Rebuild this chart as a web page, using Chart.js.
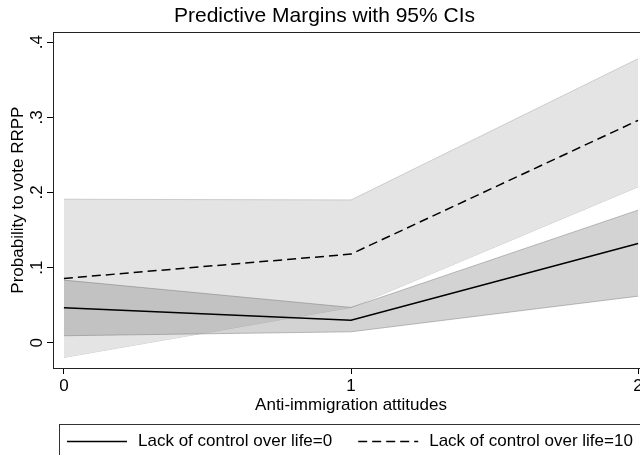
<!DOCTYPE html>
<html>
<head>
<meta charset="utf-8">
<script src="https://cdn.jsdelivr.net/npm/chart.js@4"></script>
<style>
  html, body { margin: 0; padding: 0; background: #fff; overflow: hidden; }
</style>
</head>
<body>
<canvas id="canvas" width="700" height="455"></canvas>
<script>
// predictive margins
var xVals = [0, 1, 2];
var margin0 = [0.0465, 0.030, 0.132];
var lower0 = [0.0093, 0.0146, 0.062];
var upper0 = [0.0834, 0.047, 0.1765];
var margin10 = [0.0856, 0.118, 0.296];
var lower10 = [-0.0195, 0.047, 0.2075];
var upper10 = [0.191, 0.190, 0.378];

var xTicks = [0, 1, 2];
var yTicks = [0, 0.1, 0.2, 0.3, 0.4];
var yTickLabels = ['0', '.1', '.2', '.3', '.4'];
var legendNames = ['Lack of control over life=0', 'Lack of control over life=10'];

var FONT = "'Liberation Sans', Arial, sans-serif";

function pts( arr ){
  return xVals.map(function( x, i ){ return { x: x, y: arr[i] }; });
}

// rotated y tick labels, frame and the legend box
var stataBits = {
  id: 'stataBits',
  afterDraw: function( chart ){
    var ctx = chart.ctx;
    var area = chart.chartArea;
    var y = chart.scales.y;
    ctx.save();

    ctx.strokeStyle = '#222';
    ctx.lineWidth = 1;
    ctx.strokeRect( Math.round(area.left) + 0.5, Math.round(area.top) + 0.5,
                    Math.round(area.right - area.left), Math.round(area.bottom - area.top) );

    ctx.fillStyle = '#000';
    ctx.font = '17px ' + FONT;
    ctx.textAlign = 'center';
    ctx.textBaseline = 'middle';
    for( var i = 0; i < yTicks.length; i++ ){
      ctx.save();
      ctx.translate( 37.5, y.getPixelForValue( yTicks[i] ) );
      ctx.rotate( -Math.PI / 2 );
      ctx.fillText( yTickLabels[i], 0, 0 );
      ctx.restore();
    }

    // legend
    var ly = 441.5;
    ctx.strokeStyle = '#333';
    ctx.lineWidth = 1;
    ctx.strokeRect( 59.5, 424.5, 584, 45 );
    ctx.textAlign = 'left';
    var xPos = 67;
    for( var k = 0; k < legendNames.length; k++ ){
      ctx.beginPath();
      ctx.strokeStyle = '#000';
      ctx.lineWidth = 1.4;
      ctx.setLineDash( k === 0 ? [] : [9, 5] );
      ctx.moveTo( xPos, ly );
      ctx.lineTo( xPos + 60, ly );
      ctx.stroke();
      ctx.setLineDash([]);
      ctx.fillText( legendNames[k], xPos + 71, ly );
      xPos = xPos + 71 + ctx.measureText( legendNames[k] ).width + 26;
    }
    ctx.restore();
  }
};

var ctx = document.getElementById('canvas').getContext('2d');
var chart = new Chart(ctx, {
  type: 'line',
  data: {
    datasets: [
      { label: legendNames[0], data: pts(margin0), borderColor: '#000', borderWidth: 1.5,
        pointRadius: 0, fill: false, order: 0 },
      { label: legendNames[1], data: pts(margin10), borderColor: '#000', borderWidth: 1.5,
        borderDash: [9, 5], pointRadius: 0, fill: false, order: 0 },
      { label: 'ci0 hi', data: pts(upper0), borderColor: 'rgba(110,110,110,0.45)', borderWidth: 1,
        backgroundColor: 'rgba(140,140,140,0.38)', pointRadius: 0, fill: '+1', order: 1 },
      { label: 'ci0 lo', data: pts(lower0), borderColor: 'rgba(110,110,110,0.45)', borderWidth: 1,
        pointRadius: 0, fill: false, order: 1 },
      { label: 'ci10 hi', data: pts(upper10), borderColor: 'rgb(203,203,203)', borderWidth: 1,
        backgroundColor: 'rgb(228,228,228)', pointRadius: 0, fill: '+1', order: 2 },
      { label: 'ci10 lo', data: pts(lower10), borderColor: 'rgb(203,203,203)', borderWidth: 1,
        pointRadius: 0, fill: false, order: 2 }
    ]
  },
  options: {
    responsive: false,
    animation: false,
    events: [],
    layout: { padding: { left: 0, right: 51, top: 0, bottom: 40 } },
    plugins: {
      legend: { display: false },
      tooltip: { enabled: false },
      title: {
        display: true,
        text: 'Predictive Margins with 95% CIs',
        color: '#000',
        font: { family: FONT, size: 21, weight: 'normal' },
        padding: { top: 4, bottom: 3 }
      }
    },
    scales: {
      x: {
        type: 'linear',
        min: -0.038,
        max: 2.038,
        afterBuildTicks: function( s ){ s.ticks = xTicks.map(function( v ){ return { value: v }; }); },
        afterFit: function( s ){ s.height = 47; },
        ticks: { color: '#000', font: { family: FONT, size: 17 }, padding: 2, maxRotation: 0,
                 callback: function( v ){ return String(v); } },
        grid: { drawOnChartArea: false, tickLength: 6, color: '#000' },
        border: { color: '#222' },
        title: { display: true, text: 'Anti-immigration attitudes', color: '#000',
                 font: { family: FONT, size: 17 }, padding: { top: 0, bottom: -1 } }
      },
      y: {
        min: -0.0336,
        max: 0.4133,
        afterBuildTicks: function( s ){ s.ticks = yTicks.map(function( v ){ return { value: v }; }); },
        afterFit: function( s ){ s.width = 53; },
        ticks: { display: false },
        grid: { drawOnChartArea: false, tickLength: 6, color: '#000' },
        border: { color: '#222' },
        title: { display: true, text: 'Probability to vote RRPP', color: '#000',
                 font: { family: FONT, size: 17 }, padding: { top: 8, bottom: 0 } }
      }
    }
  },
  plugins: [stataBits]
});
</script>
</body>
</html>
